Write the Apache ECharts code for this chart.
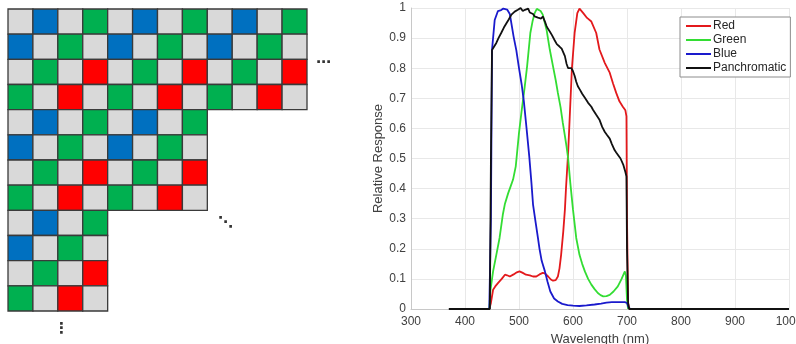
<!DOCTYPE html>
<html>
<head>
<meta charset="utf-8">
<script src="https://cdn.jsdelivr.net/npm/echarts@6/dist/echarts.min.js"></script>
<style>
html,body{margin:0;padding:0;background:#fff;}
#chart{width:796px;height:344px;}
</style>
</head>
<body>
<div id="chart"></div>
<script>
// ---------- Left: colour filter array pattern ----------
// 0 = panchromatic (grey), 1 = blue, 2 = green, 3 = red
const cfaPattern = [
  [0, 1, 0, 2],
  [1, 0, 2, 0],
  [0, 2, 0, 3],
  [2, 0, 3, 0]
];
const rowLengths = [12, 12, 12, 12, 8, 8, 8, 8, 4, 4, 4, 4];
const cellColors = ['#d9d9d9', '#0070c0', '#00b050', '#ff0000'];

// ---------- Right: spectral response curves ----------
const seriesNames = ['Red', 'Green', 'Blue', 'Panchromatic'];
const xTicks = [300, 400, 500, 600, 700, 800, 900, 1000];

const redData = [
  [445,0],[448,0.02],[452,0.064],[456,0.075],[461,0.086],[468,0.10],[474,0.114],[478,0.112],
  [483,0.108],[490,0.115],[496,0.122],[501,0.125],[507,0.12],[513,0.114],[520,0.112],[526,0.108],
  [532,0.108],[538,0.115],[544,0.12],[548,0.118],[554,0.108],[559,0.098],[563,0.094],[568,0.096],
  [572,0.108],[575,0.135],[578,0.18],[582,0.258],[585,0.33],[587,0.40],[589,0.46],[591,0.52],
  [593,0.6],[595,0.68],[598,0.8],[603,0.917],[608,0.983],[612,0.998],[614,1.0],[619,0.983],
  [626,0.967],[634,0.955],[643,0.917],[649,0.862],[659,0.817],[668,0.785],[674,0.75],[680,0.718],
  [686,0.69],[692,0.673],[697,0.66],[699,0.64],[700,0.3],[702,0.02],[704,0]
];
const greenData = [
  [445,0],[447,0.06],[452,0.125],[458,0.18],[464,0.236],[470,0.313],[474,0.35],[480,0.385],
  [485,0.41],[489,0.43],[494,0.474],[500,0.585],[505,0.66],[510,0.73],[515,0.806],[521,0.917],
  [525,0.955],[529,0.983],[533,0.997],[536,1.0],[540,0.99],[544,0.978],[551,0.928],[557,0.862],
  [563,0.806],[568,0.76],[572,0.718],[577,0.67],[581,0.62],[585,0.575],[588,0.54],[591,0.5],
  [595,0.419],[600,0.33],[606,0.236],[612,0.18],[617,0.15],[622,0.125],[628,0.1],[634,0.081],
  [640,0.066],[646,0.053],[651,0.046],[656,0.042],[662,0.043],[668,0.047],[675,0.058],
  [683,0.075],[690,0.1],[696,0.125],[698,0.11],[700,0.03],[702,0]
];
const blueData = [
  [445,0],[448,0.3],[450,0.86],[455,0.96],[461,0.99],[467,0.993],[471,0.998],[474,1.0],
  [478,0.995],[483,0.98],[490,0.905],[495,0.86],[500,0.8],[505,0.745],[509,0.69],[514,0.6],
  [519,0.507],[523,0.42],[526,0.347],[531,0.285],[535,0.237],[538,0.2],[542,0.16],[548,0.125],
  [553,0.09],[558,0.058],[565,0.035],[572,0.025],[580,0.017],[590,0.013],[600,0.011],[612,0.01],
  [625,0.012],[640,0.015],[652,0.018],[662,0.021],[672,0.023],[685,0.023],[696,0.023],
  [700,0.02],[703,0.005],[706,0]
];
const panData = [
  [370,0],[446,0],[448,0.5],[450,0.86],[454,0.872],[458,0.884],[462,0.9],[467,0.917],[472,0.935],
  [477,0.95],[481,0.962],[486,0.978],[492,0.988],[498,0.994],[503,1.0],[507,0.99],[511,0.994],
  [514,0.99],[517,0.998],[520,0.985],[523,0.982],[526,0.98],[529,0.972],[532,0.978],[535,0.968],
  [538,0.972],[541,0.965],[544,0.972],[548,0.955],[551,0.94],[554,0.93],[557,0.922],[561,0.91],
  [566,0.893],[570,0.88],[575,0.872],[579,0.865],[582,0.868],[585,0.84],[588,0.815],[591,0.8],
  [594,0.795],[597,0.8],[600,0.79],[603,0.775],[606,0.755],[609,0.74],[613,0.728],[617,0.715],
  [622,0.702],[628,0.685],[634,0.672],[637,0.662],[643,0.645],[649,0.629],[654,0.605],[659,0.588],
  [663,0.578],[668,0.566],[672,0.548],[677,0.528],[680,0.52],[683,0.516],[688,0.5],[693,0.48],
  [697,0.455],[699,0.44],[700,0.2],[702,0.02],[704,0],[1000,0]
];
const lineColors = ['#e3191c', '#33dd33', '#1a1acc', '#111111'];

// build cell list from pattern
const cells = [];
rowLengths.forEach((len, r) => {
  for (let c = 0; c < len; c++) cells.push([c, r, cfaPattern[r % 4][c % 4]]);
});

const fontFam = '"Liberation Sans", Arial, sans-serif';
const chart = echarts.init(document.getElementById('chart'), null, {renderer: 'canvas'});

const option = {
  animation: false,
  backgroundColor: '#ffffff',
  grid: [
    {left: 411, top: 8, width: 378, height: 301, containLabel: false, outerBoundsMode: 'none'},
    {left: 8, top: 9, width: 299, height: 302, containLabel: false, outerBoundsMode: 'none'}
  ],
  xAxis: [
    {
      gridIndex: 0, type: 'value', min: 300, max: 1000, interval: 100,
      name: 'Wavelength (nm)', nameLocation: 'middle', nameGap: 23,
      nameTextStyle: {fontFamily: fontFam, fontSize: 13, color: '#404040'},
      axisLine: {show: true, onZero: false, lineStyle: {color: '#c8c8c8', width: 1}},
      axisTick: {show: false},
      axisLabel: {fontFamily: fontFam, fontSize: 12, color: '#404040', margin: 7,
        formatter: v => String(v)},
      splitLine: {show: true, lineStyle: {color: '#e8e8e8', width: 1}}
    },
    {gridIndex: 1, type: 'value', min: 0, max: 12, show: false}
  ],
  yAxis: [
    {
      gridIndex: 0, type: 'value', min: 0, max: 1, interval: 0.1,
      name: 'Relative Response', nameLocation: 'middle', nameGap: 20, nameRotate: 90,
      nameTextStyle: {fontFamily: fontFam, fontSize: 13, color: '#404040'},
      axisLine: {show: true, lineStyle: {color: '#c8c8c8', width: 1}},
      axisTick: {show: false},
      axisLabel: {fontFamily: fontFam, fontSize: 12, color: '#404040', margin: 5},
      splitLine: {show: true, lineStyle: {color: '#e8e8e8', width: 1}}
    },
    {gridIndex: 1, type: 'value', min: 0, max: 12, inverse: true, show: false}
  ],
  legend: {
    data: seriesNames,
    orient: 'vertical',
    left: 680, top: 17,
    padding: [2, 4, 2, 6],
    itemGap: 0,
    itemWidth: 25, itemHeight: 2,
    icon: 'rect',
    backgroundColor: '#ffffff',
    borderColor: '#8c8c8c', borderWidth: 1,
    textStyle: {fontFamily: fontFam, fontSize: 12, color: '#262626', lineHeight: 14, padding: [0, 0, 0, -3]}
  },
  series: [
    ...[redData, greenData, blueData, panData].map((d, i) => ({
      name: seriesNames[i], type: 'line', xAxisIndex: 0, yAxisIndex: 0,
      data: d, showSymbol: false, symbol: 'none',
      lineStyle: {color: lineColors[i], width: 1.8},
      itemStyle: {color: lineColors[i]}
    })),
    {
      type: 'custom', xAxisIndex: 1, yAxisIndex: 1, data: cells,
      encode: {x: 0, y: 1},
      renderItem: (params, api) => {
        const c = api.value(0), r = api.value(1), k = api.value(2);
        const p0 = api.coord([c, r]);
        const p1 = api.coord([c + 1, r + 1]);
        return {
          type: 'rect',
          shape: {x: Math.min(p0[0], p1[0]), y: Math.min(p0[1], p1[1]),
                  width: Math.abs(p1[0] - p0[0]), height: Math.abs(p1[1] - p0[1])},
          style: {fill: cellColors[k], stroke: '#3a3a3a', lineWidth: 1.3}
        };
      }
    }
  ],
  graphic: [
    {type: 'text', left: 316, top: 56, style: {text: '\u22EF', font: 'bold 15px "DejaVu Sans"', fill: '#333'}},
    {type: 'text', left: 218, top: 216, style: {text: '\u22F1', font: 'bold 15px "DejaVu Sans"', fill: '#333'}},
    {type: 'text', left: 54, top: 322, style: {text: '\u22EE', font: 'bold 15px "DejaVu Sans"', fill: '#333'}}
  ]
};
chart.setOption(option);
</script>
</body>
</html>
